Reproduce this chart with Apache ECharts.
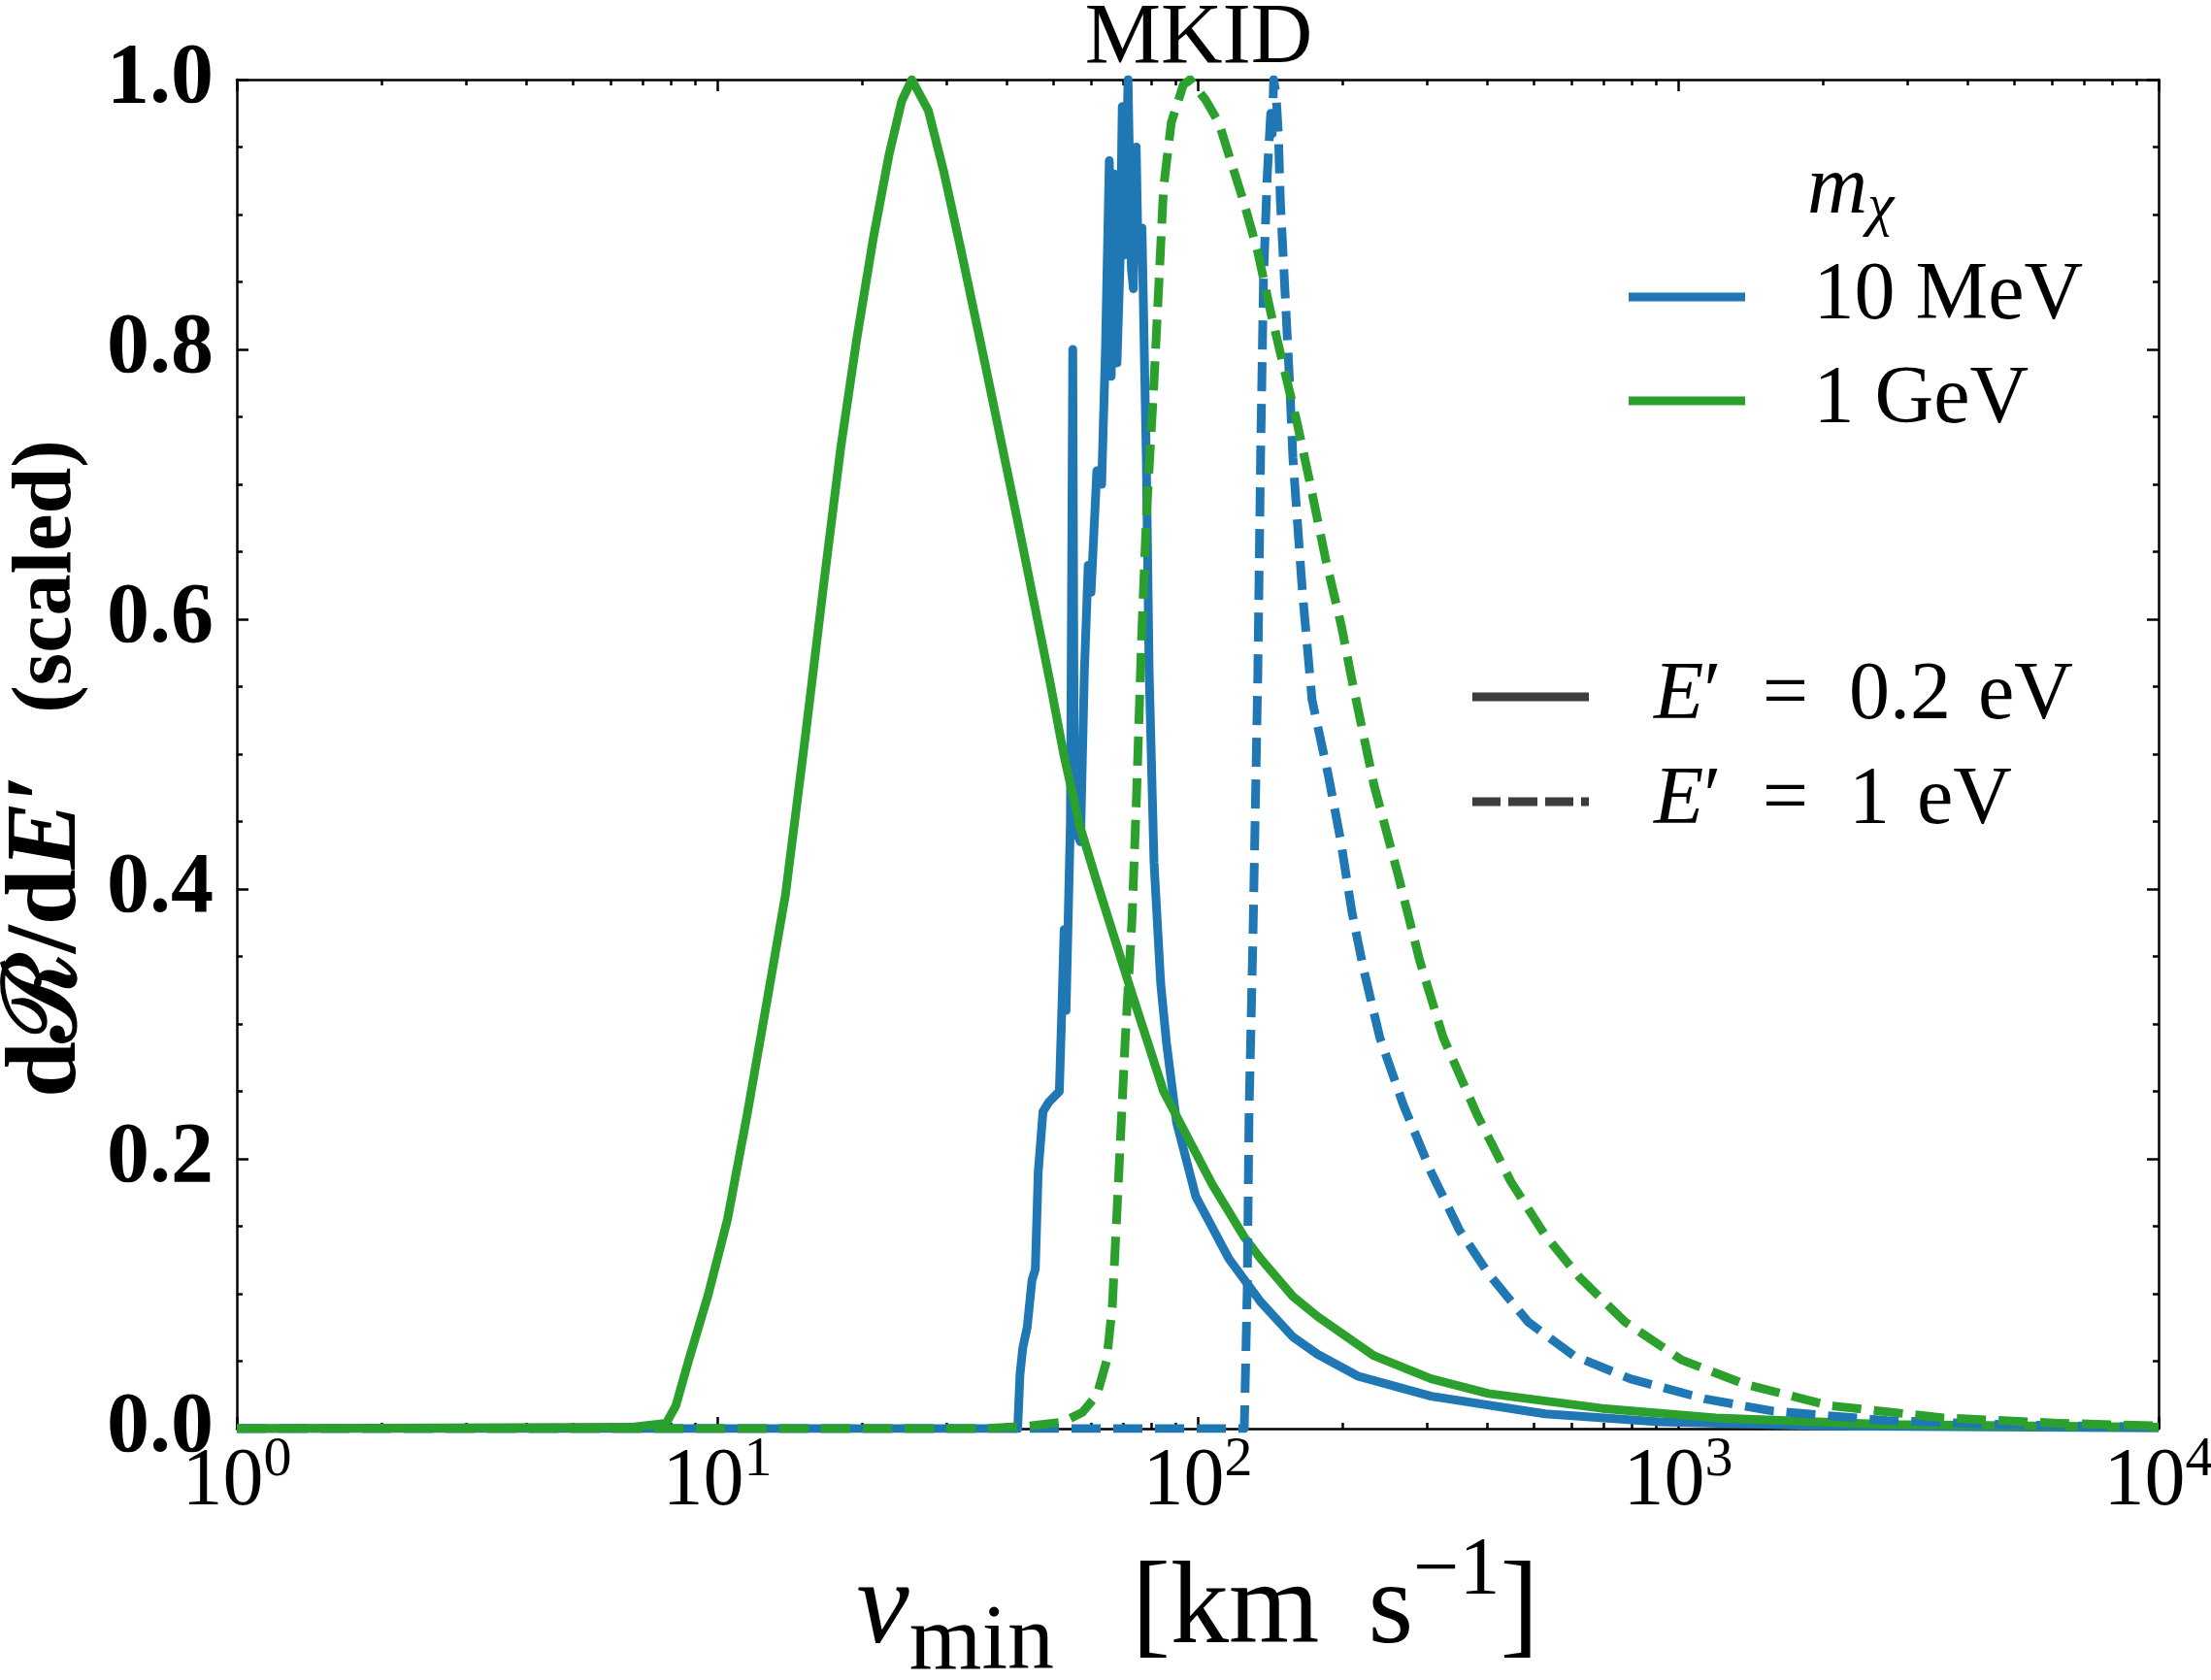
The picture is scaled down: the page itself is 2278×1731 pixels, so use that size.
<!DOCTYPE html>
<html>
<head>
<meta charset="utf-8">
<title>MKID</title>
<script src="https://cdn.jsdelivr.net/npm/echarts@6/dist/echarts.min.js"></script>
<style>
  html, body { margin: 0; padding: 0; background: #fff; }
  #chart { width: 2278px; height: 1731px; }
</style>
</head>
<body>
<div id="chart"></div>
<script>
// [v_min (km/s), dR/dE' scaled]
// m_chi = 10 MeV, E' = 0.2 eV
const blueSolid = [
  [1, 0], [42.2, 0], [42.66, 0.04], [43.25, 0.06], [44.16, 0.075], [45.19, 0.11], [45.92, 0.118],
  [46.56, 0.19], [47.64, 0.235], [48.98, 0.242], [51.52, 0.25], [52.24, 0.32], [52.72, 0.37],
  [53.21, 0.31], [54.33, 0.45], [54.95, 0.80], [55.34, 0.48], [56.23, 0.44], [57.02, 0.435],
  [58.08, 0.56], [59.16, 0.64], [59.98, 0.62], [61.66, 0.71], [63.1, 0.70], [64.27, 0.80],
  [65.46, 0.94], [66.07, 0.78], [66.99, 0.93], [67.92, 0.79], [68.87, 0.86], [69.66, 0.98],
  [70.47, 0.87], [71.61, 1.0], [72.78, 0.86], [73.45, 0.845], [74.47, 0.95], [75.16, 0.87],
  [76.56, 0.89], [78.16, 0.72], [79.25, 0.56], [81.1, 0.42], [83.75, 0.33], [86.1, 0.286],
  [90.36, 0.227], [99.1, 0.172], [116.1, 0.126], [135.2, 0.094], [157.8, 0.068], [177.8, 0.055],
  [215.3, 0.039], [306.2, 0.024], [528.4, 0.011], [914.1, 0.005], [2070, 0.002], [10000, 0.0005]
];
// m_chi = 1 GeV, E' = 0.2 eV
const greenSolid = [
  [1, 0], [6.59, 0.001], [7.83, 0.004], [8.2, 0.017], [8.71, 0.05], [9.57, 0.099], [10.5, 0.155],
  [11.53, 0.232], [12.65, 0.314], [13.87, 0.396], [15.24, 0.512], [16.71, 0.63], [18.07, 0.727],
  [19.5, 0.807], [21.09, 0.881], [22.8, 0.945], [24.2, 0.984], [25.4, 1.0], [27.5, 0.977],
  [29.6, 0.932], [32.1, 0.875], [36.3, 0.785], [42.4, 0.669], [49.3, 0.553], [52.6, 0.50],
  [56.8, 0.447], [62.2, 0.401], [72.9, 0.323], [84.9, 0.25], [91.8, 0.227], [107.2, 0.181],
  [125, 0.142], [135.2, 0.126], [157.8, 0.098], [177.8, 0.083], [232.8, 0.054], [306, 0.037],
  [403, 0.026], [695, 0.015], [1197, 0.008], [2723, 0.003], [10000, 0.001]
];
// m_chi = 10 MeV, E' = 1 eV
const blueDashed = [
  [1, 0], [125, 0], [126.8, 0.104], [127.9, 0.234], [130.3, 0.364], [133.4, 0.56], [135.2, 0.722],
  [137.1, 0.853], [139.6, 0.93], [141.9, 0.975], [142.9, 0.96], [143.9, 1.0], [145.5, 0.99],
  [147.2, 0.96], [148.6, 0.91], [152.1, 0.84], [155.6, 0.77], [157.8, 0.72], [162.9, 0.65],
  [165.2, 0.62], [173, 0.54], [187.1, 0.484], [198.2, 0.437], [209.4, 0.383], [221.3, 0.341],
  [239.3, 0.29], [267.9, 0.24], [306.2, 0.19], [350.8, 0.147], [402.7, 0.115], [487.5, 0.079],
  [606.7, 0.054], [794.3, 0.037], [1138, 0.022], [1574, 0.013], [2723, 0.006], [4688, 0.003],
  [10000, 0.001]
];
// m_chi = 1 GeV, E' = 1 eV
const greenDashed = [
  [1, 0], [35.5, 0], [44.7, 0.002], [52.5, 0.005], [57.5, 0.012], [61.7, 0.025], [64.6, 0.05],
  [66.4, 0.09], [67.9, 0.16], [70.6, 0.286], [73.0, 0.378], [74.6, 0.47], [76.4, 0.585],
  [78.2, 0.676], [81.1, 0.776], [83.0, 0.848], [84.9, 0.92], [88.1, 0.968], [93.3, 0.996],
  [96.4, 1.0], [103.8, 0.985], [110.7, 0.968], [117.8, 0.937], [125, 0.908], [133.4, 0.872],
  [141.6, 0.829], [150.7, 0.788], [160.7, 0.747], [170.6, 0.704], [184.5, 0.645], [199.1, 0.595],
  [209.4, 0.555], [232.8, 0.477], [260.6, 0.412], [289.7, 0.347], [324.3, 0.29], [381.1, 0.233],
  [448.7, 0.183], [527.2, 0.144], [623.7, 0.112], [776.2, 0.079], [1016, 0.051], [1374, 0.033],
  [2070, 0.017], [3565, 0.008], [6166, 0.004], [10000, 0.002]
];

const massLabels = ['10 MeV', '1 GeV'];
const energyLabels = ['E′ = 0.2 eV', 'E′ = 1 eV'];
const xMajorTicks = [1, 10, 100, 1000, 10000];
const xMinorTicks = [];
for (const d of [1, 10, 100, 1000]) {
  for (let k = 2; k <= 9; k++) xMinorTicks.push(k * d);
}

const BLUE = '#1f77b4';
const GREEN = '#2ca02c';
const GREY = '#3d3d3d';
const LW = 9;
const serif = '"Liberation Serif", "DejaVu Serif", serif';
const axisStyle = { color: '#000', width: 2.5 };

// legend key shapes (filled paths so no marker dot is drawn)
const solidKey = 'path://M0 0H120V9H0Z';
const dashedKey = 'path://M0 0H29V9H0Z M37 0H67V9H37Z M75 0H104V9H75Z M112 0H120V9H112Z';

const chart = echarts.init(document.getElementById('chart'), null, { renderer: 'canvas' });

function xAxis(position, ticks, len, withLabels) {
  return {
    type: 'log', logBase: 10, min: 1, max: 10000, position,
    axisLine: { show: len > 8, onZero: false, lineStyle: axisStyle },
    axisTick: { show: true, inside: true, length: len, lineStyle: axisStyle, customValues: ticks },
    axisLabel: withLabels ? {
      show: true, margin: 4, customValues: xMajorTicks,
      formatter: v => '{b|10}{s|' + Math.round(Math.log10(v)) + '}',
      rich: {
        b: { fontFamily: serif, fontSize: 84, lineHeight: 104, color: '#000' },
        s: { fontFamily: serif, fontSize: 58, lineHeight: 58, verticalAlign: 'top', color: '#000' }
      }
    } : { show: false },
    splitLine: { show: false }
  };
}

function yAxis(position, withLabels) {
  return {
    type: 'value', min: 0, max: 1, interval: 0.2, position,
    axisLine: { show: true, onZero: false, lineStyle: axisStyle },
    axisTick: { show: true, inside: true, length: 12, lineStyle: axisStyle },
    minorTick: { show: true, splitNumber: 4, length: 6, lineStyle: axisStyle },
    axisLabel: withLabels ? {
      show: true, margin: 24, formatter: v => v.toFixed(1),
      fontFamily: serif, fontSize: 88, fontWeight: 'bold', color: '#000'
    } : { show: false },
    splitLine: { show: false }
  };
}

function curve(name, data, color, dashed) {
  return {
    type: 'line', name, data, symbol: 'none', showSymbol: false, silent: true,
    lineStyle: { color, width: LW, type: dashed ? [30, 13] : 'solid', join: 'round' },
    itemStyle: { color }
  };
}

const xAxes = [
  xAxis('bottom', xMajorTicks, 12, true),
  xAxis('bottom', xMinorTicks, 6, false),
  xAxis('top', xMajorTicks, 12, false),
  xAxis('top', xMinorTicks, 6, false)
];
xAxes[0].name = '{v|v}{sub|min}{sp1|}{t|[km}{sp2|}{t|s}{sup|−1}{t|]}';
xAxes[0].nameLocation = 'middle';
xAxes[0].nameGap = 106;
xAxes[0].nameTextStyle = {
  rich: {
    v: { fontFamily: serif, fontStyle: 'italic', fontSize: 122, lineHeight: 164, color: '#000' },
    t: { fontFamily: serif, fontSize: 120, lineHeight: 164, color: '#000' },
    sub: { fontFamily: serif, fontSize: 96, lineHeight: 96, verticalAlign: 'bottom', color: '#000' },
    sup: { fontFamily: serif, fontSize: 84, lineHeight: 92, verticalAlign: 'top', color: '#000' },
    sp1: { width: 80 },
    sp2: { width: 50 }
  }
};

const yAxes = [yAxis('left', true), yAxis('right', false)];
yAxes[0].name = '{m|dℛ/d}{mi|E}{m|′}{sp|}{t|(scaled)}';
yAxes[0].nameLocation = 'middle';
yAxes[0].nameGap = 144;
yAxes[0].nameMoveOverlap = false;
yAxes[0].nameTextStyle = {
  padding: [0, 30, 0, 0],
  rich: {
    m: { fontFamily: serif, fontSize: 104, fontWeight: 'bold', lineHeight: 100, color: '#000' },
    mi: { fontFamily: serif, fontSize: 104, fontWeight: 'bold', fontStyle: 'italic', lineHeight: 100, color: '#000' },
    t: { fontFamily: serif, fontSize: 86, fontWeight: 'bold', lineHeight: 100, color: '#000' },
    sp: { width: 62 }
  }
};

const option = {
  animation: false,
  backgroundColor: '#fff',
  title: [
    {
      text: 'MKID', left: 1235, top: -3, textAlign: 'center', padding: 0,
      textStyle: { fontFamily: serif, fontSize: 88, fontWeight: 'normal', lineHeight: 88, color: '#000' }
    },
    {
      text: '{m|m}{c|χ}', left: 1862, top: 146, padding: 0,
      textStyle: {
        fontWeight: 'normal',
        rich: {
          m: { fontFamily: serif, fontStyle: 'italic', fontWeight: 'normal', fontSize: 86, lineHeight: 100, color: '#000' },
          c: { fontFamily: serif, fontStyle: 'italic', fontWeight: 'normal', fontSize: 62, lineHeight: 62, verticalAlign: 'bottom', color: '#000' }
        }
      }
    }
  ],
  grid: { left: 244, right: 54, top: 82, bottom: 259, containLabel: false, outerBoundsMode: 'none' },
  xAxis: xAxes,
  yAxis: yAxes,
  legend: [
    {
      data: massLabels.map(name => ({ name, icon: solidKey })),
      orient: 'vertical', left: 1678, top: 264, padding: 0,
      itemWidth: 123, itemHeight: 9, itemGap: 23, selectedMode: false,
      formatter: n => '{g|}{t|' + n + '}',
      textStyle: {
        rich: {
          g: { width: 64 },
          t: { fontFamily: serif, fontSize: 84, lineHeight: 100, color: '#000' }
        }
      }
    },
    {
      data: [
        { name: energyLabels[0], icon: solidKey },
        { name: energyLabels[1], icon: dashedKey }
      ],
      orient: 'vertical', left: 1517, top: 676, padding: 0,
      itemWidth: 120, itemHeight: 9, itemGap: 24, selectedMode: false,
      formatter: n => '{g|}{i|E}{t|' + n.slice(1).replace(/ = /, '\u2002=\u2002').replace(/ eV/, '\u2004eV') + '}',
      textStyle: {
        rich: {
          g: { width: 62 },
          i: { fontFamily: serif, fontStyle: 'italic', fontSize: 84, lineHeight: 100, color: '#000' },
          t: { fontFamily: serif, fontSize: 84, lineHeight: 100, color: '#000' }
        }
      }
    }
  ],
  series: [
    curve(massLabels[0], blueSolid, BLUE, false),
    curve(massLabels[1], greenSolid, GREEN, false),
    curve('10 MeV, 1 eV', blueDashed, BLUE, true),
    curve('1 GeV, 1 eV', greenDashed, GREEN, true),
    // legend-only entries for the line style key
    curve(energyLabels[0], [], GREY, false),
    curve(energyLabels[1], [], GREY, true)
  ]
};

chart.setOption(option);
</script>
</body>
</html>
